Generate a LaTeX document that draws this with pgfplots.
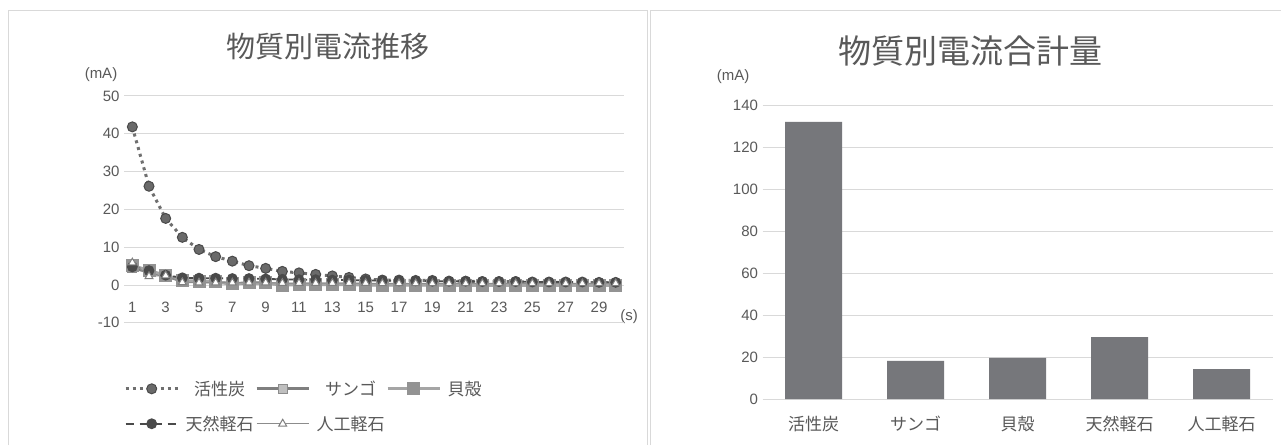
\documentclass[border=0pt]{standalone}
\usepackage{fontspec}
\setmainfont{Liberation Sans}
\newfontfamily\jp{Noto Sans CJK JP}
\usepackage{pgfplots}
\usepackage{pgfplotstable}
\pgfplotsset{compat=1.18}

\definecolor{txt}{HTML}{595959}
\definecolor{gridc}{HTML}{D9D9D9}
\definecolor{barc}{HTML}{76777B}
\definecolor{dark}{HTML}{4A4A4A}
\definecolor{darkfill}{HTML}{6A6A6A}
\definecolor{dotline}{HTML}{6F6F6F}
\definecolor{midline}{HTML}{7F7F7F}
\definecolor{lightsq}{HTML}{BFBFBF}
\definecolor{shellline}{HTML}{A5A5A5}
\definecolor{shellsq}{HTML}{939393}
\definecolor{thinline}{HTML}{8C8C8C}

% current per second (mA) for each material
\pgfplotstableread{
t  ac    sango  shell  natural  artificial
1  41.8  4.6    5.2    4.8      5.9
2  26.1  3.4    3.8    3.8      2.3
3  17.6  2.4    2.6    2.6      2.5
4  12.6  1.0    1.2    1.9      0.7
5  9.4   0.9    1.0    1.8      0.6
6  7.5   0.8    0.9    1.8      0.6
7  6.3   0.3    0.3    1.7      0.6
8  5.1   0.5    0.6    1.7      0.6
9  4.4   0.5    0.6    1.6      0.6
10 3.6   0.1    0.0    1.5      0.5
11 3.2   0.2    0.1    1.4      0.5
12 2.8   0.2    0.1    1.4      0.5
13 2.4   0.2    0.1    1.3      0.5
14 2.0   0.2    0.1    1.3      0.5
15 1.6   0.1    0.0    1.2      0.5
16 1.3   0.1    0.0    1.2      0.4
17 1.3   0.1    0.0    1.1      0.4
18 1.2   0.1    0.0    1.1      0.4
19 1.2   0.1    0.0    1.0      0.4
20 1.0   0.0    0.0    1.0      0.4
21 1.0   0.0    0.0    1.0      0.4
22 0.9   0.0    0.0    0.9      0.4
23 0.9   0.0    0.0    0.9      0.4
24 0.9   0.0    0.0    0.9      0.4
25 0.7   0.0    0.0    0.8      0.4
26 0.7   0.0    0.0    0.8      0.4
27 0.7   0.0    0.0    0.8      0.4
28 0.6   0.0    0.0    0.8      0.4
29 0.6   0.0    0.0    0.7      0.4
30 0.6   0.0    0.0    0.7      0.4
}\currents

% total current (mA) per material
\pgfplotstableread{
idx  total
0    132.0
1    18.2
2    19.6
3    29.5
4    14.2
}\totals

\pgfplotsset{
  panel/.style={
    scale only axis,
    axis line style={draw=none}, major tick length=0pt,
    ymajorgrids, grid style={gridc, line width=1pt},
    tick label style={font=\fontsize{15}{18}\selectfont, text=txt},
    /pgf/number format/assume math mode=true,
    yticklabel style={anchor=east, xshift=-1pt},
    clip=false,
  }
}

\begin{document}
\begin{tikzpicture}
\path[use as bounding box, fill=white] (0pt,0pt) rectangle (1281pt,445pt);

% panel frames
\draw[gridc, line width=1pt] (8pt,0pt) -- (8pt,434pt) -- (647pt,434pt) -- (647pt,0pt);
\draw[gridc, line width=1pt] (650pt,0pt) -- (650pt,434pt) -- (1281pt,434pt);

% titles and unit labels
\node[text=txt, font=\jp\fontsize{29}{32}\selectfont] at (328pt,399pt) {物質別電流推移};
\node[text=txt, font=\jp\fontsize{33}{36}\selectfont] at (970pt,394pt) {物質別電流合計量};
\node[text=txt, font=\fontsize{15}{18}\selectfont] at (101pt,370pt) {(mA)};
\node[text=txt, font=\fontsize{15}{18}\selectfont] at (733pt,368pt) {(mA)};
\node[text=txt, font=\fontsize{15}{18}\selectfont] at (629pt,128pt) {(s)};

% current over time; the origin anchor sits at (xmin, 0)
\begin{scope}[shift={(124pt,160pt)}]
\begin{axis}[panel,
  anchor=origin, at={(0pt,0pt)}, width=500pt, height=227pt,
  xmin=0.5, xmax=30.5, ymin=-10, ymax=50,
  xtick={1,3,...,29}, ytick={-10,0,...,50},
  xticklabel style={anchor=base, yshift=10pt},
  legend columns=3,
  legend style={at={(axis description cs:0.0,-0.25)}, anchor=north west,
    draw=none, fill=none, inner sep=0pt,
    font=\jp\fontsize{17}{20}\selectfont, text=txt,
    nodes={inner xsep=1.5pt, inner ysep=1pt},
    /tikz/row sep=17pt,
    /tikz/every even column/.append style={column sep=0pt},
    /tikz/every odd column/.append style={column sep=5pt}},
  legend image code/.code={\draw[mark repeat=2,mark phase=2,#1]
    plot coordinates {(0pt,0pt) (26pt,0pt) (52pt,0pt)};},
]
\addplot[dotline, line width=3pt, dash pattern=on 3pt off 4pt,
  mark=*, mark size=5pt, mark options={solid, fill=darkfill, draw=dark, line width=1pt}]
  table[x=t, y=ac] {\currents};
\addlegendentry{活性炭}
\addplot[midline, line width=3pt,
  mark=square*, mark size=4.5pt, mark options={solid, fill=lightsq, draw=thinline, line width=0.8pt}]
  table[x=t, y=sango] {\currents};
\addlegendentry{サンゴ}
\addplot[shellline, line width=3pt,
  mark=square*, mark size=5pt, mark options={solid, fill=shellsq, draw=shellsq}]
  table[x=t, y=shell] {\currents};
\addlegendentry{貝殻}
\addplot[dark, line width=1.8pt, dash pattern=on 8pt off 6pt,
  mark=*, mark size=4.5pt, mark options={solid, fill=dark, draw=dark}]
  table[x=t, y=natural] {\currents};
\addlegendentry{天然軽石}
\addplot[thinline, line width=1pt,
  mark=triangle*, mark size=4.5pt, mark options={solid, fill=white, draw=midline, line width=1pt}]
  table[x=t, y=artificial] {\currents};
\addlegendentry{人工軽石}
\end{axis}
\end{scope}

% total current per material; the origin anchor sits at the first bar's centre
\begin{scope}[shift={(813.5pt,46pt)}]
\begin{axis}[panel,
  anchor=origin, at={(0pt,0pt)}, width=510pt, height=294pt,
  xmin=-0.5, xmax=4.5, ymin=0, ymax=140,
  ytick={0,20,...,140}, xtick={0,1,2,3,4},
  xticklabels={活性炭,サンゴ,貝殻,天然軽石,人工軽石},
  xticklabel style={font=\jp\fontsize{17}{20}\selectfont, anchor=center, yshift=-25pt},
]
\addplot[ybar, bar width=57pt, fill=barc, draw=none] table[x=idx, y=total] {\totals};
\end{axis}
\end{scope}
\end{tikzpicture}
\end{document}
